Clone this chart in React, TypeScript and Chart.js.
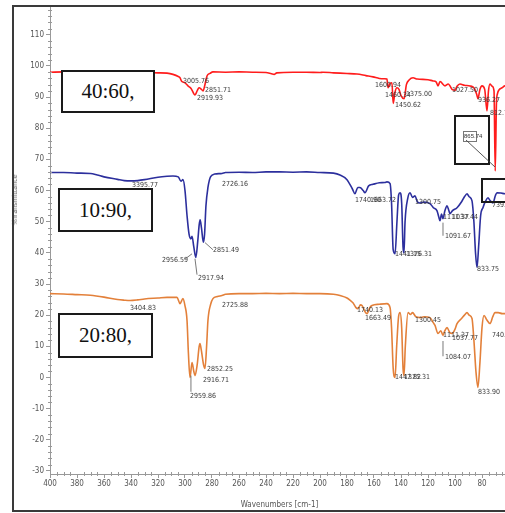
import React, { useEffect, useRef } from 'react';
import { Chart, registerables } from 'chart.js';
Chart.register(...registerables);

// ---- data (wavenumber, %T) ----
const wn4060 = [4000,3900,3800,3700,3600,3500,3400,3300,3200,3133,3089,3050,3037,3025,3000,2978,2955,2926,2910,2896,2880,2866,2855,2837,2815,2793,2700,2600,2500,2400,2360,2340,2320,2200,2100,2000,1978,1900,1800,1726,1660,1607,1560,1520,1504,1496,1480,1467,1458,1445,1430,1415,1400,1377,1360,1340,1311,1280,1200,1163,1140,1126,1111,1074,1050,1037,1020,1000,985,963,930,889,860,840,830,815,800,780,763,752,741,725,711,702,693,686,670,652,630,600];
const t4060 = [98.0,98.1,97.9,98.0,97.9,97.8,97.8,97.9,97.8,97.7,97.3,96.6,96.2,95.1,94.6,93.6,92.8,90.7,92.0,93.0,92.6,92.0,93.5,96.8,97.6,98.1,98.0,98.1,98.0,97.9,97.5,97.3,97.8,98.0,98.0,97.9,98.0,97.8,97.6,97.4,96.9,96.5,96.0,95.9,95.8,93.0,94.5,94.6,88.0,91.5,93.0,92.5,90.5,89.5,94.0,95.5,96.2,95.8,95.6,95.2,94.9,93.6,95.0,93.6,94.2,93.6,92.4,92.2,93.5,94.2,93.8,93.6,93.0,91.0,89.5,92.5,93.6,92.5,85.6,92.0,94.2,93.5,92.0,66.3,88.0,91.0,92.5,93.0,93.6,93.5];

const wn1090 = [4000,3900,3800,3700,3650,3600,3500,3450,3400,3350,3300,3200,3133,3089,3050,3030,3015,3000,2985,2970,2956,2948,2935,2920,2905,2895,2888,2878,2864,2855,2845,2830,2810,2780,2726,2700,2600,2500,2400,2300,2200,2100,2000,1900,1852,1800,1760,1741,1720,1704,1680,1667,1640,1607,1560,1520,1504,1481,1470,1458,1444,1430,1418,1407,1395,1385,1378,1370,1350,1333,1315,1296,1280,1259,1230,1185,1160,1133,1120,1111,1100,1089,1075,1059,1045,1037,1020,985,950,930,911,895,874,860,848,837,825,810,793,775,756,740,719,700,689,660,630,600];
const t1090 = [65.8,65.8,65.6,65.5,65.0,64.4,63.6,63.2,63.1,63.2,63.5,64.3,64.6,64.7,64.4,63.0,63.5,60.0,52.0,46.0,44.5,45.3,42.0,38.5,44.0,49.0,50.6,48.0,43.4,46.0,55.0,61.0,64.5,65.3,65.5,65.8,65.9,65.8,66.0,66.0,65.9,66.0,65.8,65.6,65.0,63.5,60.5,59.0,61.0,61.0,60.0,59.3,61.5,62.0,62.5,62.6,62.8,62.2,56.0,41.0,39.7,50.0,58.5,59.3,56.0,42.0,40.0,50.0,57.5,59.3,57.8,58.3,56.5,56.0,56.3,55.8,54.5,53.5,51.5,50.3,52.5,51.0,53.5,55.1,53.5,52.6,53.5,54.5,56.5,58.0,59.0,58.0,56.7,50.0,40.0,35.3,42.0,52.0,54.5,56.5,57.7,56.8,56.0,58.5,59.3,59.2,59.0,59.0];

const wn2080 = [4000,3900,3800,3700,3600,3500,3450,3407,3350,3300,3200,3133,3059,3037,3015,3000,2985,2975,2963,2948,2935,2926,2910,2895,2889,2880,2862,2852,2840,2830,2810,2793,2760,2726,2700,2600,2500,2400,2300,2200,2100,2000,1900,1852,1800,1770,1756,1735,1719,1700,1689,1665,1652,1630,1615,1560,1504,1481,1470,1458,1444,1432,1418,1407,1395,1385,1378,1368,1348,1330,1315,1290,1259,1230,1185,1160,1148,1126,1105,1089,1075,1059,1040,1022,1000,985,950,930,911,895,874,860,845,830,815,800,785,765,741,720,704,680,650,630,600];
const t2080 = [26.9,26.8,26.6,26.4,25.8,25.0,24.8,24.7,24.9,25.2,25.5,25.7,25.7,23.7,25.3,23.0,18.3,8.0,0.0,4.8,2.0,0.6,4.0,10.0,10.9,9.0,4.0,2.9,10.0,18.3,23.5,25.3,26.0,26.3,26.7,26.9,26.9,27.0,26.9,27.0,26.9,26.9,26.7,26.3,25.5,24.5,24.0,22.5,22.1,23.3,23.1,21.0,20.5,22.5,23.1,23.5,23.7,22.4,16.0,3.0,0.0,10.0,19.5,20.8,16.0,3.0,0.6,10.0,20.8,20.2,20.8,19.5,19.2,19.5,19.2,17.5,16.7,14.1,15.0,13.5,15.0,16.0,14.5,14.1,15.5,17.3,19.0,20.0,20.8,20.0,18.9,12.0,2.0,-3.2,5.0,16.0,19.9,18.5,17.3,19.5,20.8,20.8,20.5,20.5,20.5];

const seriesNames = ['40:60,', '10:90,', '20:80,'];
const seriesColors = ['#ff1c1c', '#2c2f9d', '#e3803a'];

// tick values
const xTickValues = [4000,3800,3600,3400,3200,3000,2800,2600,2400,2200,2000,1800,1600,1400,1200,1000,800,600];
const yTickValues = [110,100,90,80,70,60,50,40,30,20,10,0,-10,-20,-30];

// peak labels: [wavenumber, %T, text]
const peaks4060: [number, number, string][] = [
  [3015, 95.2, '3005.76'], [2911, 89.7, '2919.93'], [2852, 92.3, '2851.71'],
  [1593, 93.9, '1600.94'], [1519, 90.7, '1460.34'], [1444, 87.5, '1450.62'],
  [1363, 91.0, '1375.00'], [1022, 92.3, '1027.50'], [830, 89.1, '936.27'], [741, 84.9, '812.72'],
];
const peaks1090: [number, number, string][] = [
  [3393, 61.8, '3395.77'], [3170, 37.8, '2956.59'], [2904, 32.0, '2917.94'],
  [2793, 41.0, '2851.49'], [2726, 62.2, '2726.16'], [1741, 57.0, '1740.90'],
  [1630, 57.0, '1663.72'], [1444, 39.7, '1441.15'], [1363, 39.7, '1376.31'],
  [1296, 56.4, '1300.75'], [1089, 51.6, '1111.37'], [1022, 51.3, '1037.44'],
  [1074, 45.2, '1091.67'], [837, 34.9, '833.75'], [726, 55.4, '739.93'],
];
const peaks2080: [number, number, string][] = [
  [3407, 22.1, '3404.83'], [2963, -6.1, '2959.86'], [2867, -1.0, '2916.71'],
  [2837, 2.6, '2852.25'], [2726, 23.1, '2725.88'], [1726, 21.5, '1740.13'],
  [1667, 18.9, '1663.49'], [1444, 0.0, '1447.82'], [1378, 0.0, '1375.31'],
  [1296, 18.3, '1300.45'], [1089, 13.5, '1111.37'], [1022, 12.5, '1037.77'],
  [1074, 6.4, '1084.07'], [830, -4.8, '833.90'], [726, 13.5, '740.15'],
];
// leader lines: [wn1, t1, wn2, t2]
const leaders: [number, number, number, number][] = [
  [2948, 39.7, 3000, 38.0], [2926, 38.1, 2911, 33.0], [2852, 43.3, 2793, 41.0],
  [1089, 49.7, 1089, 45.5], [2956, 0.6, 2956, -4.6], [1089, 11.7, 1089, 6.8],
];

const tickFont = { family: "'Liberation Sans Narrow', 'DejaVu Sans Condensed', sans-serif", size: 8 };
const labelFont = "7px 'Liberation Sans Narrow', 'DejaVu Sans Condensed', sans-serif";

const minorTicks = {
  id: 'minorTicks',
  afterDraw(chart: any) {
    const { ctx, scales } = chart;
    const xs = scales.x, ys = scales.y;
    ctx.save();
    ctx.strokeStyle = '#999';
    ctx.lineWidth = 1;
    ctx.beginPath();
    for (let v = 650; v < 4000; v += 50) {
      if (v % 200 === 0) continue;
      const px = Math.round(xs.getPixelForValue(v)) + 0.5;
      ctx.moveTo(px, xs.top - 2);
      ctx.lineTo(px, xs.top + 2);
    }
    for (let v = -30; v <= 118; v += 2) {
      if (v % 10 === 0) continue;
      const py = Math.round(ys.getPixelForValue(v)) + 0.5;
      ctx.moveTo(ys.right - 2, py);
      ctx.lineTo(ys.right + 2, py);
    }
    ctx.stroke();
    ctx.restore();
  },
};

const peakLabels = {
  id: 'peakLabels',
  afterDatasetsDraw(chart: any) {
    const { ctx, scales } = chart;
    const xs = scales.x, ys = scales.y;
    ctx.save();
    ctx.font = labelFont;
    ctx.fillStyle = '#3a3a3a';
    ctx.textBaseline = 'middle';
    ctx.textAlign = 'left';
    [peaks4060, peaks1090, peaks2080].forEach((arr) => {
      arr.forEach(([w, t, s]) => {
        ctx.fillText(s, xs.getPixelForValue(w), ys.getPixelForValue(t));
      });
    });
    ctx.strokeStyle = '#555';
    ctx.lineWidth = 0.8;
    ctx.beginPath();
    leaders.forEach(([w1, t1, w2, t2]) => {
      ctx.moveTo(xs.getPixelForValue(w1), ys.getPixelForValue(t1));
      ctx.lineTo(xs.getPixelForValue(w2), ys.getPixelForValue(t2));
    });
    ctx.stroke();
    ctx.restore();
  },
};

export default function App() {
  const ref = useRef<HTMLCanvasElement | null>(null);
  useEffect(() => {
    if (!ref.current) return;
    const mk = (w: number[], t: number[]) => w.map((x, i) => ({ x, y: t[i] }));
    const series = [mk(wn4060, t4060), mk(wn1090, t1090), mk(wn2080, t2080)];
    const chart = new Chart(ref.current, {
      type: 'line',
      data: {
        datasets: series.map((d, i) => ({
          label: seriesNames[i],
          data: d,
          borderColor: seriesColors[i],
          backgroundColor: seriesColors[i],
          borderWidth: 1.6,
          pointRadius: 0,
          cubicInterpolationMode: 'monotone' as const,
          fill: false,
        })),
      },
      options: {
        animation: false,
        responsive: false,
        devicePixelRatio: 1,
        layout: { padding: { left: 0, right: 11, top: 5.6, bottom: 3 } },
        plugins: { legend: { display: false }, tooltip: { enabled: false } },
        scales: {
          x: {
            type: 'linear',
            reverse: true,
            min: 600,
            max: 4000,
            afterFit: (s: any) => { s.height = 36; },
            afterBuildTicks: (s: any) => { s.ticks = xTickValues.map((v) => ({ value: v })); },
            ticks: {
              autoSkip: false,
              maxRotation: 0,
              padding: 1,
              color: '#555',
              font: tickFont,
              callback: (v: any) => String(Number(v) / 10),
            },
            grid: { drawOnChartArea: false, tickLength: 4, color: '#999' },
            border: { color: '#999' },
            title: { display: true, text: 'Wavenumbers [cm-1]', color: '#555', font: tickFont, padding: 0 },
          },
          y: {
            type: 'linear',
            min: -31,
            max: 119,
            afterFit: (s: any) => { s.width = 50; },
            afterBuildTicks: (s: any) => { s.ticks = yTickValues.map((v) => ({ value: v })); },
            ticks: {
              autoSkip: false,
              padding: 2,
              color: '#555',
              font: tickFont,
              callback: (v: any) => String(v),
            },
            grid: { drawOnChartArea: false, tickLength: 4, color: '#999' },
            border: { color: '#999' },
          },
        },
      },
      plugins: [minorTicks, peakLabels],
    });
    return () => chart.destroy();
  }, []);

  const box = (left: number, top: number, w: number, h: number, text: string) => (
    <div style={{
      position: 'absolute', left, top, width: w, height: h, boxSizing: 'border-box',
      border: '2px solid #1a1a1a', background: '#fff', display: 'flex', alignItems: 'center',
      justifyContent: 'center', fontFamily: "'Liberation Serif', 'Times New Roman', serif", fontSize: 21, color: '#111',
    }}>{text}</div>
  );

  return (
    <div style={{ position: 'fixed', left: 0, top: 0, width: 505, height: 513, overflow: 'hidden', background: '#fff' }}>
      <canvas ref={ref} width={520} height={513} style={{ position: 'absolute', left: 0, top: 0, width: 520, height: 513 }} />
      <div style={{
        position: 'absolute', left: 15, top: 200, transform: 'translate(-50%, -50%) rotate(-90deg)',
        fontFamily: "'Liberation Sans Narrow', 'DejaVu Sans Condensed', sans-serif", fontSize: 7, color: '#555', whiteSpace: 'nowrap',
      }}>%Transmittance</div>
      {box(61, 70, 94, 43, seriesNames[0])}
      {box(58, 188, 95, 44, seriesNames[1])}
      {box(58, 313, 95, 45, seriesNames[2])}
      <div style={{ position: 'absolute', left: 454, top: 115, width: 36, height: 50, boxSizing: 'border-box', border: '2px solid #1a1a1a' }} />
      <div style={{
        position: 'absolute', left: 463, top: 131, width: 14, height: 11, boxSizing: 'border-box', border: '1px solid #777',
        fontFamily: "'Liberation Sans Narrow', sans-serif", fontSize: 6, lineHeight: '9px', color: '#333', textAlign: 'center', background: '#fff',
      }}>865.74</div>
      <svg style={{ position: 'absolute', left: 0, top: 0 }} width={505} height={513}>
        <line x1={466} y1={140} x2={495} y2={167} stroke="#444" strokeWidth={0.9} />
      </svg>
      <div style={{ position: 'absolute', left: 481, top: 178, width: 40, height: 25, boxSizing: 'border-box', border: '2px solid #1a1a1a' }} />
      <div style={{ position: 'absolute', left: 12, top: 5, width: 600, height: 507, boxSizing: 'border-box', border: '2px solid #3a3a3a', pointerEvents: 'none' }} />
    </div>
  );
}
